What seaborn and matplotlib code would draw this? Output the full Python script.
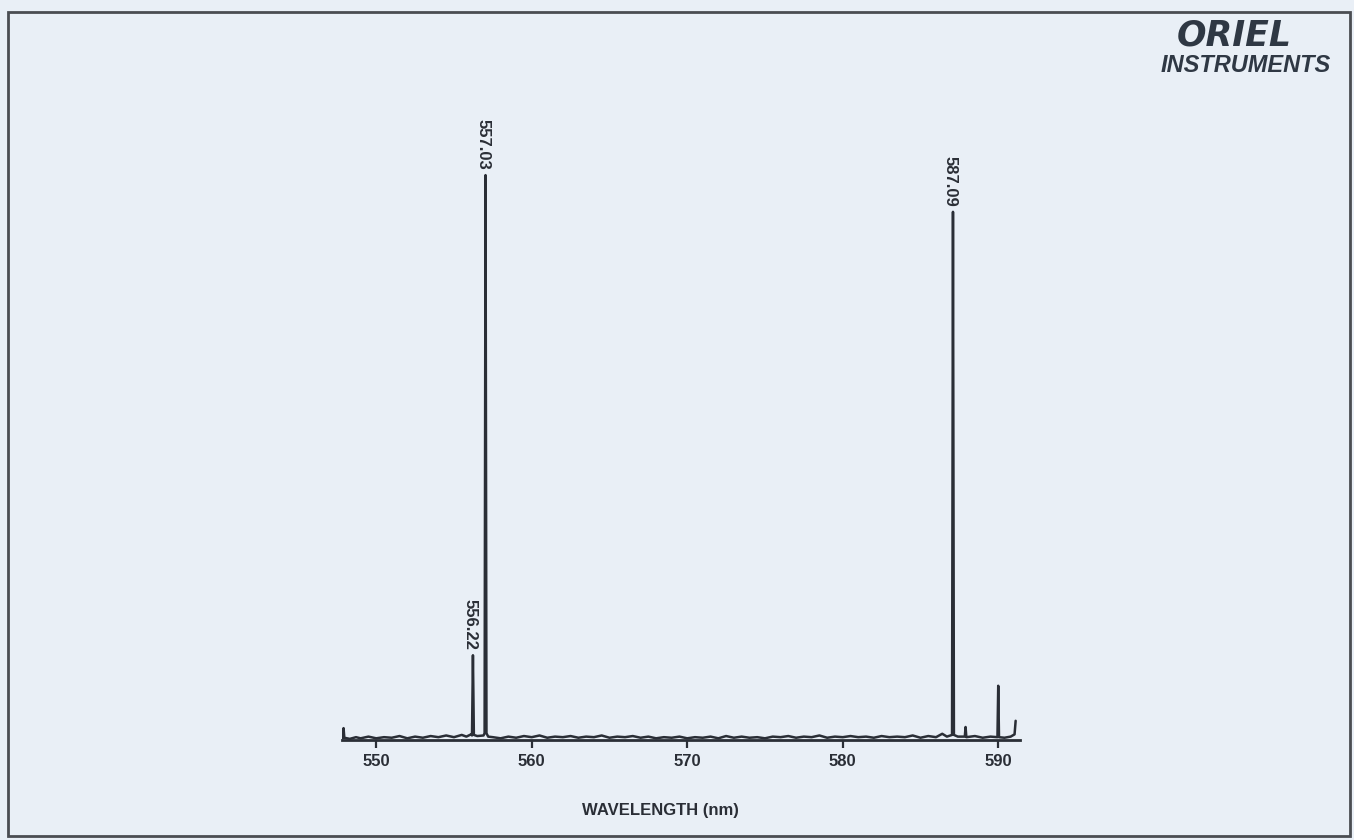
import matplotlib
matplotlib.use("Agg")
import matplotlib.pyplot as plt
import matplotlib.patches as mpatches
import seaborn as sns
import pandas as pd

# ---------------- data ----------------
wavelength_nm = [
    547.85, 547.90, 547.95, 548.30, 548.70, 549.00, 549.50, 550.00, 550.50, 551.00,
    551.50, 552.00, 552.50, 553.00, 553.50, 554.00, 554.50, 555.00, 555.50, 555.80,
    556.10, 556.16, 556.22, 556.28, 556.50, 556.90, 556.97, 557.03, 557.09, 557.20,
    557.50, 558.00, 558.50, 559.00, 559.50, 560.00, 560.50, 561.00, 561.50, 562.00,
    562.50, 563.00, 563.50, 564.00, 564.50, 565.00, 565.50, 566.00, 566.50, 567.00,
    567.50, 568.00, 568.50, 569.00, 569.50, 570.00, 570.50, 571.00, 571.50, 572.00,
    572.50, 573.00, 573.50, 574.00, 574.50, 575.00, 575.50, 576.00, 576.50, 577.00,
    577.50, 578.00, 578.50, 579.00, 579.50, 580.00, 580.50, 581.00, 581.50, 582.00,
    582.50, 583.00, 583.50, 584.00, 584.50, 585.00, 585.50, 586.00, 586.40, 586.70,
    587.03, 587.09, 587.15, 587.40, 587.85, 587.90, 587.95, 588.50, 589.00, 589.50,
    589.95, 590.00, 590.05, 590.40, 590.80, 591.05, 591.12,
]
intensity = [
    0.3, 2.1, 0.4, 0.2, 0.5, 0.3, 0.6, 0.3, 0.5, 0.4,
    0.7, 0.3, 0.6, 0.4, 0.7, 0.5, 0.8, 0.5, 0.9, 0.6,
    1.0, 0.8, 15.0, 0.9, 0.7, 0.8, 1.2, 100.0, 1.2, 0.6,
    0.5, 0.3, 0.6, 0.4, 0.7, 0.5, 0.8, 0.4, 0.6, 0.5,
    0.7, 0.4, 0.6, 0.5, 0.8, 0.4, 0.6, 0.5, 0.7, 0.4,
    0.6, 0.3, 0.5, 0.4, 0.6, 0.3, 0.5, 0.4, 0.6, 0.3,
    0.7, 0.4, 0.6, 0.4, 0.5, 0.3, 0.6, 0.5, 0.7, 0.4,
    0.6, 0.5, 0.8, 0.4, 0.6, 0.5, 0.7, 0.5, 0.6, 0.4,
    0.7, 0.5, 0.6, 0.5, 0.8, 0.4, 0.7, 0.5, 1.1, 0.6,
    0.9, 93.5, 0.9, 0.6, 0.6, 2.3, 0.5, 0.7, 0.4, 0.6,
    0.5, 9.6, 0.5, 0.4, 0.6, 1.0, 3.4,
]
peak_labels = ["556.22", "557.03", "587.09"]
peak_positions = [556.22, 557.03, 587.09]
peak_heights = [15.0, 100.0, 93.5]
tick_values = [550, 560, 570, 580, 590]
x_label = "WAVELENGTH (nm)"
logo_top = "ORIEL"
logo_bottom = "INSTRUMENTS"

# ---------------- style ----------------
BG = "#e9eff6"
INK = "#2a2e36"

sns.set_theme(style="white")
plt.rcParams["font.family"] = ["Liberation Sans", "DejaVu Sans"]

W, H = 1354, 840
fig = plt.figure(figsize=(W / 100, H / 100), dpi=100, facecolor=BG)

ax_left, ax_right = 342, 1020
ax_bottom, ax_top = 740, 100
ax = fig.add_axes([ax_left / W, 1 - ax_bottom / H,
                   (ax_right - ax_left) / W, (ax_bottom - ax_top) / H])
ax.set_facecolor(BG)

df = pd.DataFrame({"wl": wavelength_nm, "I": intensity})
sns.lineplot(data=df, x="wl", y="I", ax=ax, color=INK, linewidth=1.8,
             estimator=None, sort=True)

ax.set_xlim(547.8, 591.4)
ax.set_ylim(0, 113.3)
ax.set_xticks(tick_values)
ax.set_xticklabels([str(t) for t in tick_values], fontsize=12, fontweight="bold",
                   color=INK)
ax.set_yticks([])
ax.set_xlabel("")
ax.set_ylabel("")
for s in ["top", "right", "left"]:
    ax.spines[s].set_visible(False)
ax.spines["bottom"].set_color(INK)
ax.spines["bottom"].set_linewidth(2)
ax.tick_params(axis="x", direction="out", length=6, width=1.6, color=INK,
               pad=4, bottom=True)

for lab, xp, hp in zip(peak_labels, peak_positions, peak_heights):
    ax.annotate(lab, xy=(xp, hp), xytext=(-2, 4), textcoords="offset points",
                rotation=270, ha="center", va="bottom", fontsize=12,
                fontweight="bold", color=INK)

fig.text(660 / W, 1 - 810 / H, x_label, ha="center", va="center",
         fontsize=12, fontweight="bold", color=INK)

# logo
fig.text(1292 / W, 1 - 35 / H, logo_top, ha="right", va="center",
         fontsize=25, fontweight="bold", style="italic", color="#2f3844",
         family=["DejaVu Sans"])
fig.text(1331 / W, 1 - 66 / H, logo_bottom, ha="right", va="center",
         fontsize=17, fontweight="heavy", style="italic", color="#2f3844")

# border
fig.patches.append(mpatches.Rectangle((8 / W, 1 - 836 / H), (1350 - 8) / W,
                                      (836 - 12) / H, transform=fig.transFigure,
                                      fill=False, edgecolor="#4a4d52", linewidth=2))

fig.savefig("out.png", dpi=100, facecolor=BG)
